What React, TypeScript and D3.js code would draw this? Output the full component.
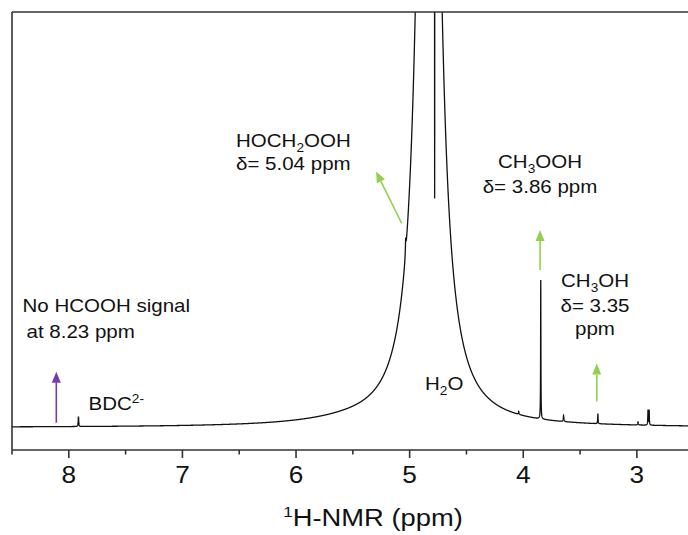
import React, { useMemo } from "react";
import * as d3 from "d3";

// ---- data ----
// x axis: chemical shift (ppm), reversed
const xDomain = [8.5, 2.55];
const yDomain = [-22.5, 415.5]; // arbitrary intensity units
const majorTicks = [8, 7, 6, 5, 4, 3];
const minorTicks = [8.5, 7.5, 6.5, 5.5, 4.5, 3.5];

// peak list: centre (ppm), height (a.u.), half-width (ppm)
const peakCenters = [4.832, 4.78, 5.5, 5.035, 7.915, 3.846, 4.04, 3.645, 3.343, 2.99, 2.902, 2.892];
const peakHeights = [1480, -763, 3.5, 14, 10, 139, 3, 6, 10, 3, 15, 15];
const peakWidths = [0.074, 0.0015, 0.5, 0.003, 0.0025, 0.0015, 0.003, 0.003, 0.002, 0.003, 0.002, 0.002];

// annotation arrows: tail (ppm, a.u.) -> tip (ppm, a.u.)
const arrowTailPpm = [8.11, 5.069, 3.852, 3.353];
const arrowTailI = [4.8, 204, 157.5, 26];
const arrowTipPpm = [8.11, 5.296, 3.852, 3.353];
const arrowTipI = [55.8, 256, 197.5, 64];
const arrowColors = ["#7a3aa8", "#92d050", "#92d050", "#92d050"];

const W = 688;
const H = 535;
const left = 12;
const right = 688;
const top = 12;
const bottom = 450;
const SX = 1.14; // horizontal text stretch
const FONT = "'Liberation Sans', Arial, sans-serif";

function T({ x, y, anchor = "start", size = 18, children }: any) {
  return (
    <text
      transform={`translate(${x},${y}) scale(${SX},1)`}
      textAnchor={anchor}
      fontSize={size}
      fontFamily={FONT}
      fill="#111"
    >
      {children}
    </text>
  );
}

export default function App() {
  const x = d3.scaleLinear().domain(xDomain).range([left, right]);
  const y = d3.scaleLinear().domain(yDomain).range([bottom, top]);

  const path = useMemo(() => {
    const pts: number[] = [];
    for (let p = xDomain[1]; p <= xDomain[0]; p += 0.0005) pts.push(p);
    peakCenters.forEach((c) => pts.push(c));
    pts.sort((a, b) => b - a);
    const data = pts.map((p) => {
      let v = 0;
      for (let i = 0; i < peakCenters.length; i++) {
        const u = (p - peakCenters[i]) / peakWidths[i];
        v += peakHeights[i] / (1 + u * u);
      }
      return [p, v] as [number, number];
    });
    const line = d3
      .line<[number, number]>()
      .x((d) => x(d[0]))
      .y((d) => y(d[1]));
    return line(data) || "";
  }, []);

  const arrows = arrowTailPpm.map((_, i) => {
    const x1 = x(arrowTailPpm[i]);
    const y1 = y(arrowTailI[i]);
    const x2 = x(arrowTipPpm[i]);
    const y2 = y(arrowTipI[i]);
    const dx = x2 - x1;
    const dy = y2 - y1;
    const L = Math.hypot(dx, dy);
    const ux = dx / L;
    const uy = dy / L;
    const hl = 11;
    const hw = 4.5;
    const bx = x2 - ux * hl;
    const by = y2 - uy * hl;
    const poly = [
      [x2, y2],
      [bx - uy * hw, by + ux * hw],
      [bx + uy * hw, by - ux * hw],
    ]
      .map((q) => q.join(","))
      .join(" ");
    return (
      <g key={i}>
        <line x1={x1} y1={y1} x2={bx} y2={by} stroke={arrowColors[i]} strokeWidth={1.6} />
        <polygon points={poly} fill={arrowColors[i]} />
      </g>
    );
  });

  return (
    <svg
      width={W}
      height={H}
      style={{ position: "absolute", left: 0, top: 0, background: "#fff" }}
    >
      <defs>
        <clipPath id="plotclip">
          <rect x={left} y={top} width={right - left} height={bottom - top} />
        </clipPath>
      </defs>
      <rect x={0} y={0} width={W} height={H} fill="#fff" />
      <path d={path} fill="none" stroke="#111" strokeWidth={1.3} clipPath="url(#plotclip)" />

      {/* frame */}
      <line x1={left} y1={top} x2={right} y2={top} stroke="#333" strokeWidth={1.6} />
      <line x1={left} y1={top} x2={left} y2={bottom} stroke="#333" strokeWidth={1.6} />
      <line x1={left} y1={bottom} x2={right} y2={bottom} stroke="#333" strokeWidth={1.6} />

      {majorTicks.map((t) => (
        <g key={t}>
          <line x1={x(t)} x2={x(t)} y1={bottom} y2={bottom + 8} stroke="#333" strokeWidth={1.6} />
          <T x={x(t)} y={482.5} anchor="middle" size={23}>
            {t}
          </T>
        </g>
      ))}
      {minorTicks.map((t) => (
        <line key={t} x1={x(t)} x2={x(t)} y1={bottom} y2={bottom + 4.5} stroke="#333" strokeWidth={1.6} />
      ))}

      <T x={373} y={526} anchor="middle" size={24}>
        <tspan fontSize={15} dy={-9}>1</tspan>
        <tspan dy={9}>H-NMR (ppm)</tspan>
      </T>

      {arrows}

      <T x={22.5} y={311.5}>No HCOOH signal</T>
      <T x={26.5} y={337.5}>at 8.23 ppm</T>

      <T x={88.5} y={410}>
        BDC<tspan fontSize={12} dy={-7}>2-</tspan>
      </T>

      <T x={236} y={146.5}>
        HOCH<tspan fontSize={12} dy={5}>2</tspan>
        <tspan dy={-5}>OOH</tspan>
      </T>
      <T x={236} y={170}>δ= 5.04 ppm</T>

      <T x={540} y={167.5} anchor="middle">
        CH<tspan fontSize={12} dy={5}>3</tspan>
        <tspan dy={-5}>OOH</tspan>
      </T>
      <T x={540} y={193.3} anchor="middle">δ= 3.86 ppm</T>

      <T x={595} y={286.7} anchor="middle">
        CH<tspan fontSize={12} dy={5}>3</tspan>
        <tspan dy={-5}>OH</tspan>
      </T>
      <T x={595} y={311.7} anchor="middle">δ= 3.35</T>
      <T x={595} y={335} anchor="middle">ppm</T>

      <T x={425} y={390}>
        H<tspan fontSize={12} dy={5}>2</tspan>
        <tspan dy={-5}>O</tspan>
      </T>
    </svg>
  );
}
